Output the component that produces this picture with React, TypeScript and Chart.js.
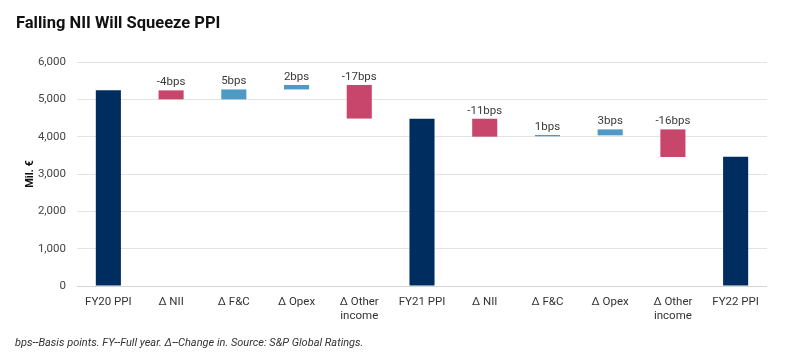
import React, { useEffect, useRef } from "react";
import { Chart, registerables } from "chart.js";

Chart.register(...registerables);

const categories: (string | string[])[] = [
  "FY20 PPI",
  "Δ NII",
  "Δ F&C",
  "Δ Opex",
  ["Δ Other", "income"],
  "FY21 PPI",
  "Δ NII",
  "Δ F&C",
  "Δ Opex",
  ["Δ Other", "income"],
  "FY22 PPI",
];

const barStarts = [0, 5000, 5000, 5265, 4485, 0, 4000, 4010, 4035, 3455, 0];
const barEnds = [5240, 5240, 5265, 5385, 5385, 4480, 4480, 4045, 4195, 4195, 3465];
const barKinds = ["total", "neg", "pos", "pos", "neg", "total", "neg", "pos", "pos", "neg", "total"];
const barLabels = ["", "-4bps", "5bps", "2bps", "-17bps", "", "-11bps", "1bps", "3bps", "-16bps", ""];

const yTicks = [0, 1000, 2000, 3000, 4000, 5000, 6000];

const TITLE = "Falling NII Will Squeeze PPI";
const Y_TITLE = "Mil. €";
const FOOTNOTE = "bps--Basis points. FY--Full year. Δ--Change in. Source: S&P Global Ratings.";

const COLORS: Record<string, string> = {
  total: "#002d5f",
  neg: "#c8466c",
  pos: "#4f9ac4",
};

const FONT = "Roboto, 'Liberation Sans', Arial, sans-serif";

export default function App() {
  const ref = useRef<HTMLCanvasElement | null>(null);

  useEffect(() => {
    if (!ref.current) return;
    const textPlugin = {
      id: "texts",
      afterDatasetsDraw(chart: any) {
        const ctx = chart.ctx;
        const meta = chart.getDatasetMeta(0);
        ctx.save();
        ctx.fillStyle = "#3a3a3a";
        ctx.font = `11.5px ${FONT}`;
        ctx.textAlign = "center";
        ctx.textBaseline = "alphabetic";
        meta.data.forEach((el: any, i: number) => {
          const lbl = barLabels[i];
          if (!lbl) return;
          const top = Math.min(el.y, el.base);
          ctx.fillText(lbl, el.x, top - 5);
        });
        ctx.restore();
      },
      afterDraw(chart: any) {
        const ctx = chart.ctx;
        const ca = chart.chartArea;
        ctx.save();
        // title
        ctx.fillStyle = "#111";
        ctx.font = `bold 16.5px ${FONT}`;
        ctx.textAlign = "left";
        ctx.textBaseline = "middle";
        ctx.fillText(TITLE, 16, 23.5);
        // footnote
        ctx.fillStyle = "#333";
        ctx.font = `italic 11px ${FONT}`;
        ctx.fillText(FOOTNOTE, 15, 343);
        // y title
        ctx.translate(30, (ca.top + ca.bottom) / 2);
        ctx.rotate(-Math.PI / 2);
        ctx.fillStyle = "#111";
        ctx.font = `bold 11px ${FONT}`;
        ctx.textAlign = "center";
        ctx.fillText(Y_TITLE, 0, 0);
        ctx.restore();
      },
    };

    const chart = new Chart(ref.current, {
      type: "bar",
      data: {
        labels: categories,
        datasets: [
          {
            data: barStarts.map((s, i) => [s, barEnds[i]]) as any,
            backgroundColor: barKinds.map((k) => COLORS[k]),
            barPercentage: 0.4,
            categoryPercentage: 1,
            borderWidth: 0,
          },
        ],
      },
      options: {
        responsive: false,
        animation: false,
        layout: { padding: { top: 62, right: 33, left: 0, bottom: 0 } },
        plugins: {
          legend: { display: false },
          tooltip: { enabled: false },
          title: { display: false },
        },
        scales: {
          x: {
            grid: { display: false },
            border: { display: false },
            ticks: {
              color: "#333",
              font: { family: FONT, size: 11.5, lineHeight: 1.15 },
              padding: 2,
              maxRotation: 0,
              autoSkip: false,
            },
            afterFit(scale: any) {
              scale.height = 77;
            },
          },
          y: {
            min: 0,
            max: 6000,
            afterBuildTicks(scale: any) {
              scale.ticks = yTicks.map((v) => ({ value: v }));
            },
            grid: {
              color: (c: any) => (c.tick && c.tick.value === 0 ? "#d4d4d4" : "#e3e3e3"),
              lineWidth: 1,
              drawTicks: false,
            },
            border: { display: false },
            ticks: {
              color: "#444",
              font: { family: FONT, size: 11.5 },
              padding: 11,
              callback: (v: any) => Number(v).toLocaleString("en-US"),
            },
            afterFit(scale: any) {
              scale.width = 77;
            },
          },
        },
      },
      plugins: [textPlugin],
    });
    return () => chart.destroy();
  }, []);

  return (
    <div style={{ position: "absolute", left: 0, top: 0, width: 800, height: 363, background: "#fff" }}>
      <canvas ref={ref} width={800} height={363} />
    </div>
  );
}
